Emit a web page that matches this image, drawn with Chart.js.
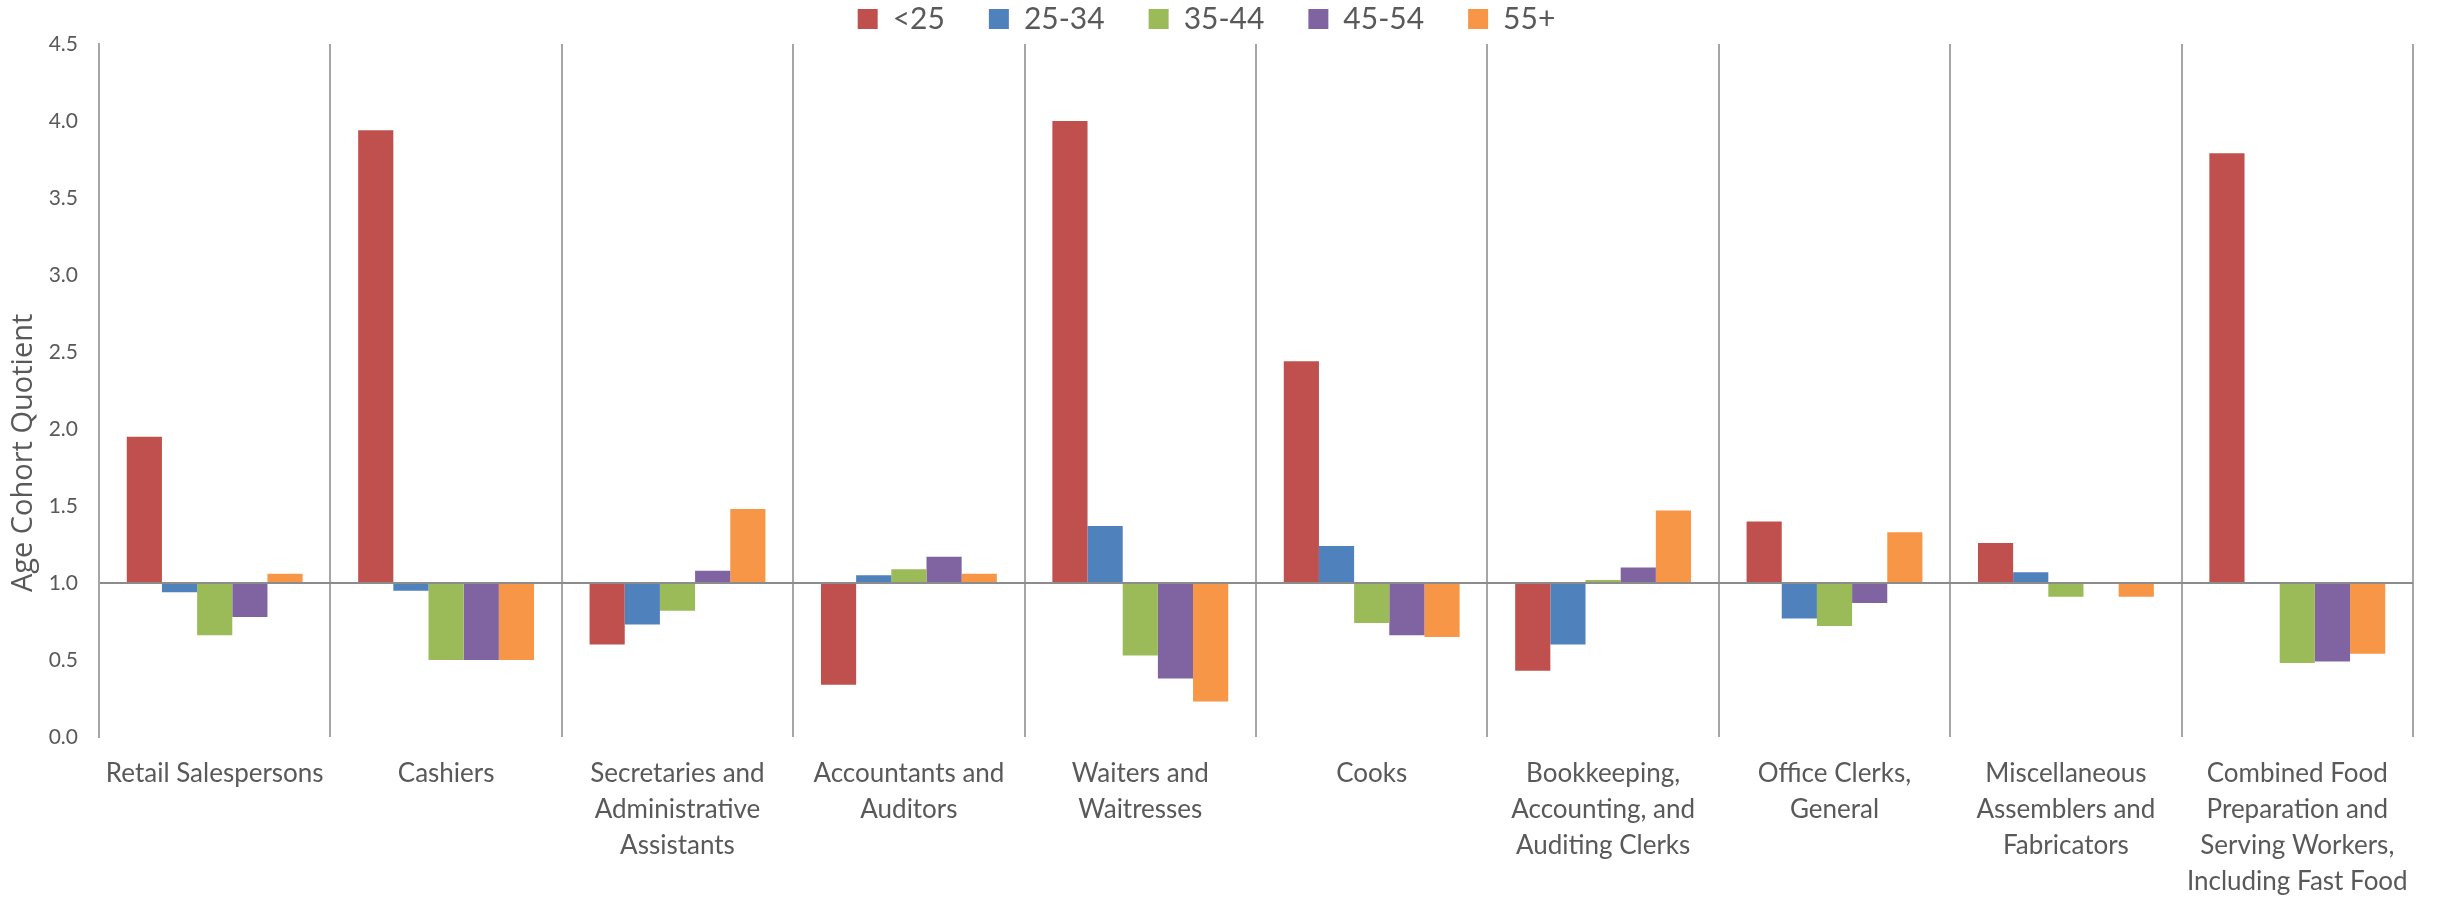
<!DOCTYPE html>
<html>
<head>
<meta charset="utf-8">
<script src="https://cdn.jsdelivr.net/npm/chart.js@4/dist/chart.umd.min.js"></script>
<style>
  html, body { margin: 0; padding: 0; background: #ffffff; }
  #wrap { width: 2438px; height: 897px; position: relative; }
</style>
</head>
<body>
<div id="wrap"><canvas id="c" width="2438" height="897"></canvas></div>
<script>
// ---- data ----
const categories = [
  "Retail Salespersons",
  "Cashiers",
  ["Secretaries and", "Administrative", "Assistants"],
  ["Accountants and", "Auditors"],
  ["Waiters and", "Waitresses"],
  "Cooks",
  ["Bookkeeping,", "Accounting, and", "Auditing Clerks"],
  ["Office Clerks,", "General"],
  ["Miscellaneous", "Assemblers and", "Fabricators"],
  ["Combined Food", "Preparation and", "Serving Workers,", "Including Fast Food"]
];
const seriesNames = ["<25", "25-34", "35-44", "45-54", "55+"];
const under25   = [1.95, 3.94, 0.60, 0.34, 4.00, 2.44, 0.43, 1.40, 1.26, 3.79];
const age25to34 = [0.94, 0.95, 0.73, 1.05, 1.37, 1.24, 0.60, 0.77, 1.07, 1.005];
const age35to44 = [0.66, 0.50, 0.82, 1.09, 0.53, 0.74, 1.02, 0.72, 0.91, 0.48];
const age45to54 = [0.78, 0.50, 1.08, 1.17, 0.38, 0.66, 1.10, 0.87, 1.00, 0.49];
const age55plus = [1.06, 0.50, 1.48, 1.06, 0.23, 0.65, 1.47, 1.33, 0.91, 0.54];
const yTicks = [0.0, 0.5, 1.0, 1.5, 2.0, 2.5, 3.0, 3.5, 4.0, 4.5];
const baseline = 1.0;
const yAxisTitle = "Age Cohort Quotient";

// ---- styles ----
const colors = ["#C0504D", "#4F81BD", "#9BBB59", "#8064A2", "#F79646"];
const textColor = "#595959";
const allSeries = [under25, age25to34, age35to44, age45to54, age55plus];

const datasets = allSeries.map((vals, i) => ({
  label: seriesNames[i],
  data: vals,
  base: baseline,
  backgroundColor: colors[i],
  borderWidth: 0,
  categoryPercentage: 0.76,
  barPercentage: 1.0
}));

// y-axis title, placed where the reference puts it (left of the ticks, slightly below centre)
const yTitlePlugin = {
  id: "yTitle",
  afterDraw(chart) {
    const ctx = chart.ctx;
    const area = chart.chartArea;
    ctx.save();
    ctx.fillStyle = textColor;
    ctx.font = "29px 'Open Sans', sans-serif";
    ctx.textAlign = "center";
    ctx.textBaseline = "middle";
    ctx.translate(24, area.top + (area.bottom - area.top) * 0.59);
    ctx.rotate(-Math.PI / 2);
    ctx.fillText(yAxisTitle, 0, 0);
    ctx.restore();
  }
};

new Chart(document.getElementById("c"), {
  type: "bar",
  data: { labels: categories, datasets },
  plugins: [yTitlePlugin],
  options: {
    responsive: false,
    animation: false,
    layout: { padding: { top: -40, right: 25, left: 0, bottom: 0 } },
    plugins: {
      legend: {
        position: "top",
        labels: {
          boxWidth: 20,
          boxHeight: 20,
          padding: 44,
          color: textColor,
          font: { family: "Lato, sans-serif", size: 30 }
        }
      },
      tooltip: { enabled: false }
    },
    scales: {
      x: {
        grid: { display: true, offset: true, color: "#A6A6A6", lineWidth: 2, drawTicks: false },
        border: { display: false },
        ticks: {
          color: textColor,
          font: { family: "Lato, sans-serif", size: 26, lineHeight: 1.38 },
          padding: 19,
          autoSkip: false,
          maxRotation: 0,
          minRotation: 0
        },
        afterFit: (s) => { s.height = 160; }
      },
      y: {
        min: yTicks[0],
        max: yTicks[yTicks.length - 1],
        z: 1,
        afterBuildTicks: (s) => { s.ticks = yTicks.map(v => ({ value: v })); },
        ticks: {
          color: textColor,
          font: { family: "Lato, sans-serif", size: 21 },
          padding: 21,
          callback: (v) => Number(v).toFixed(1)
        },
        grid: {
          drawTicks: false,
          color: (ctx) => (ctx.tick && Math.abs(ctx.tick.value - baseline) < 1e-9) ? "#8C8C8C" : "rgba(0,0,0,0)",
          lineWidth: 2
        },
        border: { display: true, color: "#A6A6A6", width: 2 },
        title: { display: false },
        afterFit: (s) => { s.width = 99; }
      }
    }
  }
});
</script>
</body>
</html>
